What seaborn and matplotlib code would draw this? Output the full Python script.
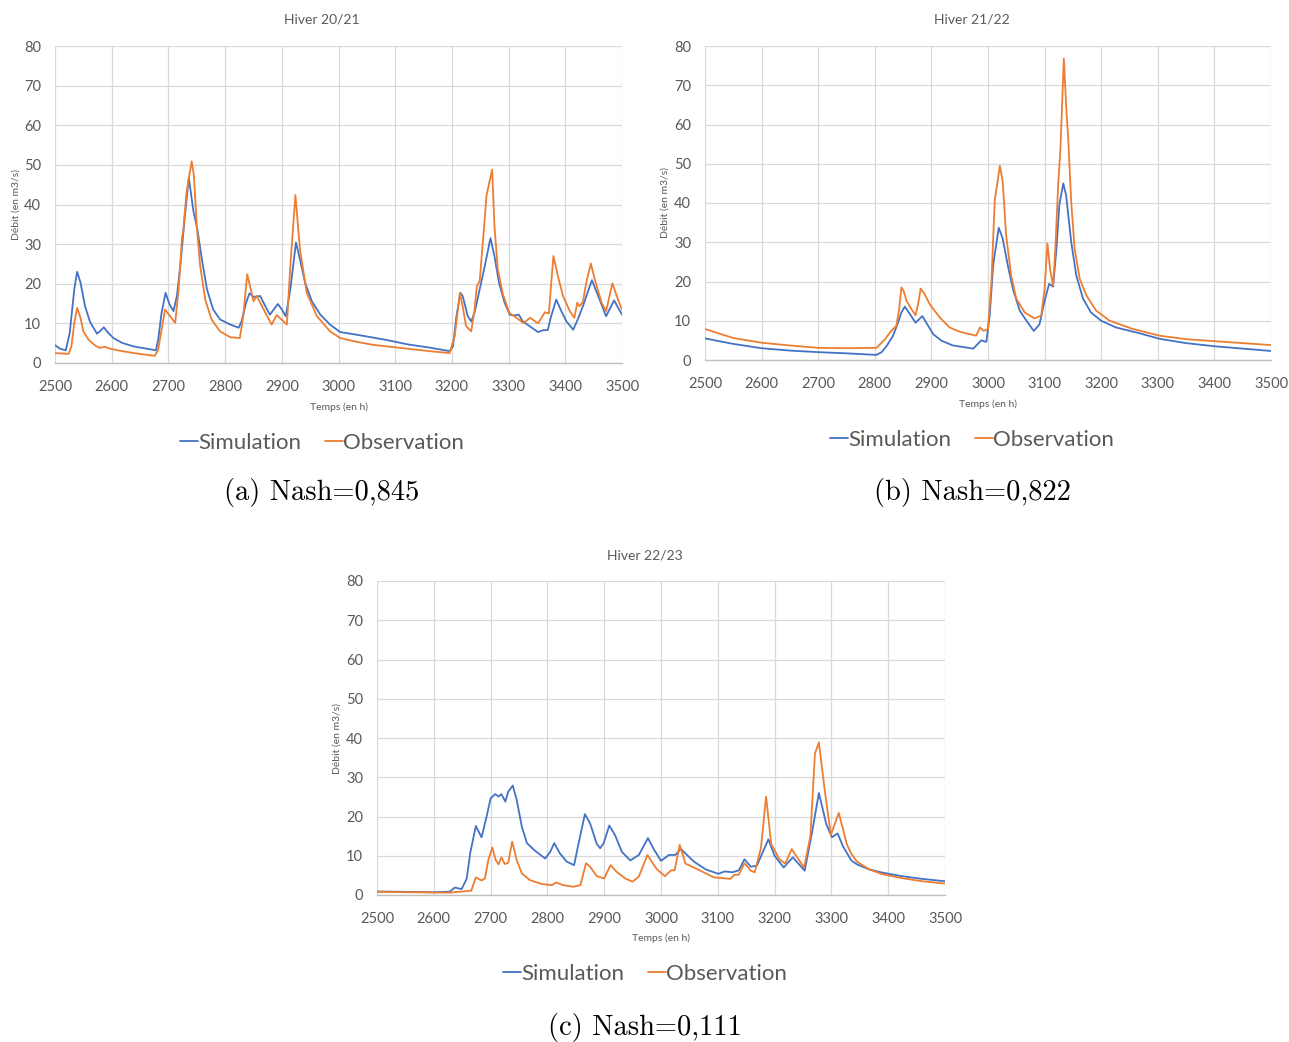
import matplotlib
matplotlib.use("Agg")
import matplotlib.pyplot as plt
import seaborn as sns
import pandas as pd

# ---------------- data (time in h, discharge in m3/s) ----------------
sim_a = [(2500,4.5),(2509,3.6),(2519,3.2),(2526,7.6),(2534,18.6),(2539,23),(2545,20.3),(2553,14.3),
         (2562,10.3),(2574,7.4),(2579,8),(2586,9),(2594,7.6),(2603,6.3),(2618,5.1),(2638,4.2),
         (2662,3.6),(2678,3.2),(2682,5.9),(2688,12.7),(2695,17.7),(2702,14.8),(2709,13.1),(2715,16.9),
         (2721,24.5),(2729,37),(2736,46.8),(2744,38.4),(2751,33.8),(2759,26.2),(2768,18.6),(2779,13.5),
         (2791,11),(2809,9.7),(2824,8.9),(2829,10.5),(2837,15.2),(2843,17.6),(2850,16.7),(2862,16.9),
         (2871,14.3),(2879,12.2),(2893,14.9),(2900,13.5),(2907,11.8),(2915,18.6),(2925,30.4),(2932,26.2),
         (2941,20.3),(2953,15.6),(2968,12.2),(2985,9.7),(3003,7.8),(3025,7.3),(3050,6.7),(3085,5.8),
         (3122,4.7),(3160,3.9),(3196,3.0),(3202,4.2),(3208,11.8),(3215,17.7),(3219,16.9),(3228,11.8),
         (3234,10.5),(3240,12.7),(3249,18.6),(3258,24.5),(3268,31.5),(3275,27),(3283,20.3),(3293,15.2),
         (3302,12.2),(3309,12),(3318,12.2),(3325,10.5),(3337,9.3),(3352,7.8),(3361,8.3),(3369,8.3),
         (3375,11.8),(3384,16),(3393,13.1),(3402,10.5),(3414,8.4),(3422,11),(3431,14.3),(3440,18.1),
         (3447,20.9),(3458,16.9),(3472,11.8),(3486,15.8),(3500,12.2)]
obs_a = [(2500,2.5),(2524,2.3),(2529,4.2),(2534,10.1),(2539,13.9),(2545,11.4),(2550,8),(2559,5.9),
         (2571,4.4),(2579,3.8),(2588,4.1),(2597,3.6),(2618,3.0),(2644,2.4),(2676,1.8),(2682,3.4),
         (2688,8.4),(2694,13.5),(2703,11.8),(2712,10.1),(2718,18.6),(2724,31.6),(2726,33.3),(2732,43),
         (2741,50.9),(2745,47.3),(2750,34.6),(2756,24.5),(2765,16),(2776,11),(2791,8),(2809,6.5),
         (2826,6.3),(2832,11.8),(2839,22.4),(2844,19.4),(2850,15.6),(2856,16.9),(2862,15.2),(2871,12.7),
         (2882,9.7),(2891,12.1),(2909,9.7),(2915,24.5),(2924,42.4),(2932,28.7),(2944,17.7),(2962,11.8),
         (2985,8),(3003,6.3),(3030,5.4),(3060,4.6),(3122,3.6),(3160,3.0),(3196,2.5),(3205,6.8),
         (3214,17.7),(3219,14.3),(3225,9.3),(3234,8),(3240,13.5),(3244,19.4),(3249,20.7),(3255,31.2),
         (3261,42.2),(3266,45.6),(3271,48.8),(3275,34.6),(3281,23.6),(3290,17.3),(3301,12.7),(3314,11.4),
         (3326,10.1),(3338,11.4),(3352,10),(3364,12.8),(3371,12.5),(3379,27),(3387,21.9),(3396,16.9),
         (3408,13.1),(3416,11.4),(3421,15.2),(3425,14.3),(3431,15.4),(3437,20.3),(3445,25.1),(3452,21.1),
         (3464,15.2),(3472,13.1),(3483,20.1),(3493,16),(3500,13.5)]

sim_b = [(2500,5.5),(2550,4.1),(2600,3.0),(2650,2.4),(2700,2.0),(2750,1.7),(2803,1.3),(2812,2.0),
         (2821,3.6),(2832,6.1),(2841,9.5),(2847,12.1),(2853,13.6),(2862,11.7),(2872,9.5),(2884,11.2),
         (2891,9.5),(2903,6.6),(2918,4.9),(2938,3.7),(2974,2.9),(2988,5.0),(2997,4.6),(3003,11.3),
         (3009,24.1),(3019,33.7),(3026,30.9),(3035,24.1),(3044,18.1),(3056,12.6),(3068,10),(3081,7.4),
         (3091,9.1),(3100,15.1),(3108,19.4),(3115,18.7),(3121,28.4),(3126,39.5),(3133,45),(3138,42),
         (3147,30.1),(3156,21.5),(3168,15.6),(3182,12.1),(3200,10),(3226,8.3),(3268,6.8),(3303,5.4),
         (3350,4.3),(3400,3.5),(3450,2.9),(3500,2.3)]
obs_b = [(2500,7.9),(2550,5.6),(2600,4.4),(2650,3.7),(2700,3.1),(2750,3.0),(2803,3.1),(2818,5.3),
         (2829,7.4),(2838,8.7),(2843,12.9),(2847,18.5),(2851,17.6),(2856,15.1),(2865,12.9),(2872,11.4),
         (2877,14.6),(2881,18.2),(2888,16.8),(2897,14.2),(2915,10.8),(2932,8.3),(2950,7.2),(2979,6.2),
         (2986,8.3),(2992,7.4),(3000,7.9),(3006,19.8),(3012,40.8),(3016,44.6),(3021,49.5),(3026,45.5),
         (3032,31.8),(3041,21.5),(3050,15.6),(3065,12.1),(3082,10.6),(3094,11.3),(3100,18.1),(3105,29.7),
         (3110,22.8),(3115,19),(3119,28.4),(3124,44.6),(3128,54),(3134,76.8),(3138,65.1),(3142,55.7),
         (3147,40.3),(3153,28.4),(3162,20.7),(3174,16.4),(3191,12.6),(3215,10),(3256,7.9),(3303,6.2),
         (3350,5.3),(3400,4.8),(3450,4.3),(3500,3.8)]

sim_c = [(2500,0.9),(2600,0.7),(2628,0.85),(2637,1.9),(2649,1.5),(2658,4.2),(2664,10.6),(2674,17.6),
         (2684,14.7),(2693,20),(2700,24.6),(2708,25.7),(2714,25.1),(2719,25.7),(2726,23.8),(2731,26.3),
         (2739,27.9),(2746,24.2),(2755,17.4),(2764,13.2),(2778,11.3),(2796,9.3),(2805,11),(2812,13.2),
         (2822,10.6),(2834,8.5),(2847,7.6),(2855,13.2),(2866,20.6),(2875,18.3),(2887,13),(2893,11.9),
         (2899,13.2),(2909,17.7),(2919,15.3),(2931,11),(2946,8.8),(2961,10.2),(2977,14.5),(2988,11.5),
         (3000,8.7),(3014,10.2),(3025,10.2),(3035,11.7),(3058,8.5),(3079,6.5),(3101,5.4),(3112,6.0),
         (3126,5.8),(3137,6.3),(3147,9.1),(3158,7.2),(3169,7.5),(3189,14.2),(3200,10),(3216,7.0),
         (3232,9.6),(3253,6.2),(3266,16),(3278,26.0),(3291,18),(3301,14.7),(3311,15.7),(3320,12.5),
         (3335,8.8),(3345,7.8),(3367,6.5),(3390,5.7),(3424,4.8),(3460,4.1),(3500,3.5)]
obs_c = [(2500,0.8),(2628,0.6),(2666,1.1),(2674,4.5),(2684,3.7),(2690,4.2),(2696,8.9),(2703,12.1),
         (2709,8.9),(2714,7.8),(2719,9.6),(2725,7.9),(2731,8.2),(2738,13.6),(2746,8.9),(2755,5.5),
         (2769,3.8),(2790,2.8),(2808,2.5),(2815,3.2),(2828,2.5),(2846,2.1),(2858,2.5),(2868,8.1),
         (2875,7.2),(2887,4.8),(2900,4.2),(2911,7.6),(2922,5.9),(2937,4.2),(2950,3.4),(2961,4.7),
         (2976,10.2),(2993,6.5),(3007,4.8),(3018,6.3),(3024,6.3),(3033,12.8),(3043,8),(3065,6.5),
         (3093,4.5),(3122,4.1),(3129,5.1),(3137,5.2),(3147,8.1),(3158,6.2),(3165,5.8),(3176,12),
         (3185,25.1),(3194,13),(3209,9),(3219,8),(3230,11.7),(3252,7),(3263,15),(3271,36),
         (3278,38.9),(3288,27),(3299,15.3),(3313,20.9),(3320,17),(3327,13),(3335,10.5),(3345,8.5),
         (3367,6.5),(3390,5.3),(3424,4.3),(3460,3.5),(3500,2.9)]

titles = ["Hiver 20/21", "Hiver 21/22", "Hiver 22/23"]
captions = ["(a) Nash=0,845", "(b) Nash=0,822", "(c) Nash=0,111"]
series_names = ["Simulation", "Observation"]
x_ticks = [2500, 2600, 2700, 2800, 2900, 3000, 3100, 3200, 3300, 3400, 3500]
y_ticks = [0, 10, 20, 30, 40, 50, 60, 70, 80]
xlabel = "Temps (en h)"
ylabel = "Débit (en m3/s)"

# ---------------- style ----------------
sns.set_style("whitegrid", {"grid.color": "#d9d9d9", "axes.edgecolor": "#bfbfbf"})
plt.rcParams["font.family"] = ["Lato", "DejaVu Sans"]
TXT = "#595959"
palette = {"Simulation": "#4472C4", "Observation": "#ED7D31"}

W, H = 1289, 1042
fig = plt.figure(figsize=(W / 100, H / 100), dpi=100)

def fx(px):
    return px / W

def fy(py):
    return 1 - py / H

# axes rectangles in pixels: left, right, top, bottom
panels = [
    dict(sim=sim_a, obs=obs_a, rect=(55, 622, 46, 363), cx=322, title_y=20, xl_y=407, yl_x=16,
         leg_y=443, cap_y=493),
    dict(sim=sim_b, obs=obs_b, rect=(705, 1271, 46, 360), cx=972, title_y=20, xl_y=404, yl_x=665,
         leg_y=440, cap_y=493),
    dict(sim=sim_c, obs=obs_c, rect=(377, 945, 581, 895), cx=645, title_y=555, xl_y=938, yl_x=337,
         leg_y=974, cap_y=1028),
]

for i, p in enumerate(panels):
    l, r, t, b = p["rect"]
    ax = fig.add_axes([fx(l), fy(b), fx(r - l), (b - t) / H])
    rows = []
    for name, data in zip(series_names, [p["sim"], p["obs"]]):
        for tt, q in data:
            rows.append({"t": tt, "Q": q, "serie": name})
    df = pd.DataFrame(rows)
    sns.lineplot(data=df, x="t", y="Q", hue="serie", hue_order=series_names, palette=palette,
                 estimator=None, sort=True, linewidth=1.3, ax=ax, legend=True)
    for ln in ax.get_lines():
        ln.set_solid_joinstyle("round")
    ax.set_xlim(2500, 3500)
    ax.set_ylim(0, 80)
    ax.set_xticks(x_ticks)
    ax.set_yticks(y_ticks)
    ax.tick_params(axis="both", length=0, labelsize=10.5, colors=TXT)
    ax.tick_params(axis="x", pad=12)
    ax.tick_params(axis="y", pad=10)
    ax.set_xlabel("")
    ax.set_ylabel("")
    ax.grid(True, color="#d9d9d9", linewidth=0.9)
    for s in ["left", "right", "top"]:
        ax.spines[s].set_visible(False)
    ax.spines["bottom"].set_color("#bfbfbf")
    ax.spines["bottom"].set_linewidth(1.0)

    fig.text(fx(p["cx"]), fy(p["title_y"]), titles[i], ha="center", va="center",
             fontsize=10, color=TXT)
    fig.text(fx((l + r) / 2), fy(p["xl_y"]), xlabel, ha="center", va="center",
             fontsize=7.5, color=TXT)
    fig.text(fx(p["yl_x"]), fy((t + b) / 2), ylabel, ha="center", va="center",
             rotation=90, fontsize=7.5, color=TXT)

    handles, labels = ax.get_legend_handles_labels()
    ax.legend(handles, labels, loc="center", bbox_to_anchor=(fx(p["cx"]), fy(p["leg_y"])),
              bbox_transform=fig.transFigure, ncol=2, frameon=False, fontsize=16,
              handlelength=0.8, handletextpad=0.0, columnspacing=1.1, labelcolor=TXT)
    fig.text(fx(p["cx"]), fy(p["cap_y"]), captions[i], ha="center", va="center",
             fontsize=20.5, family="cmr10", color="black")

fig.savefig("out.png", dpi=100, facecolor="white")
